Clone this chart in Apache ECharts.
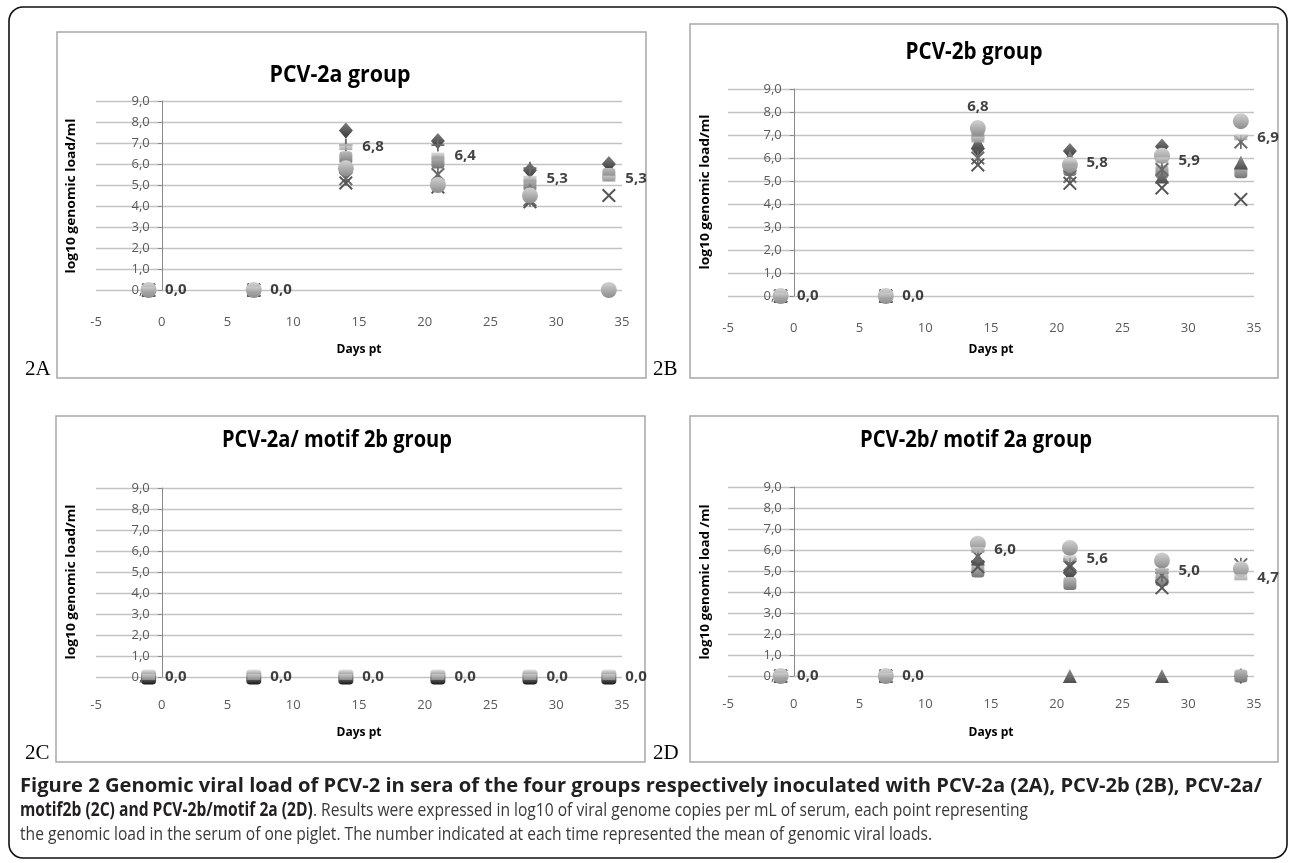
<!DOCTYPE html>
<html><head><meta charset="utf-8">
<script src="https://cdn.jsdelivr.net/npm/echarts@6/dist/echarts.min.js"></script>
<style>html,body{margin:0;padding:0;background:#fff}#c{width:1290px;height:863px}</style>
</head><body><div id="c"></div>
<script>
// ---------------- DATA ----------------
const days = [-1, 7, 14, 21, 28, 34];
const panelTitles = ['PCV-2a group', 'PCV-2b group', 'PCV-2a/ motif 2b group', 'PCV-2b/ motif 2a group'];
const panelTags = ['2A', '2B', '2C', '2D'];
const yTitles = ['log10 genomic load/ml', 'log10 genomic load/ml', 'log10 genomic load/ml', 'log10 genomic load /ml'];
const xTitle = 'Days pt';

// 2A  PCV-2a group
const a_diamond  = [0, 0, 7.6, 7.1, 5.7, 6.0];
const a_plus     = [0, 0, 6.9, 6.9, 5.8, null];
const a_square   = [0, 0, 6.3, 6.1, 5.0, 5.5];
const a_triangle = [0, 0, 5.9, 5.3, 4.8, null];
const a_star     = [0, 0, 5.3, 5.5, 4.3, null];
const a_x        = [0, 0, 5.1, 4.9, 4.2, 4.5];
const a_circle   = [0, 0, 5.8, 5.0, 4.5, 0];
const a_mean     = [0, 0, 6.8, 6.4, 5.3, 5.3];

// 2B  PCV-2b group
const b_diamond  = [0, 0, 6.4, 6.3, 6.5, null];
const b_square   = [0, 0, 7.0, 5.5, 5.4, 5.4];
const b_triangle = [0, 0, 6.7, 6.0, 5.2, 5.8];
const b_star     = [0, 0, 6.0, 5.2, 5.5, 6.7];
const b_x        = [0, 0, 5.7, 4.9, 4.7, 4.2];
const b_circle   = [0, 0, 7.3, 5.7, 6.1, 7.6];
const b_mean     = [0, 0, 6.8, 5.8, 5.9, 6.9];

// 2C  PCV-2a/ motif 2b group
const c_square   = [0, 0, 0, 0, 0, 0];
const c_mean     = [0, 0, 0, 0, 0, 0];

// 2D  PCV-2b/ motif 2a group
const d_diamond  = [0, 0, 5.4, 4.9, 4.9, 0];
const d_square   = [0, 0, 5.0, 4.4, 4.6, 0];
const d_triangle = [0, 0, 5.6, 0, 0, null];
const d_star     = [0, 0, 5.7, 5.3, 4.8, 5.3];
const d_x        = [0, 0, 5.2, 5.2, 4.2, null];
const d_circle   = [0, 0, 6.3, 6.1, 5.5, 5.1];
const d_mean     = [0, 0, 6.0, 5.6, 5.0, 4.7];

const captionBold1 = 'Figure 2 Genomic viral load of PCV-2 in sera of the four groups respectively inoculated with PCV-2a (2A), PCV-2b (2B), PCV-2a/';
const captionBold2 = 'motif2b (2C) and PCV-2b/motif 2a (2D)';
const captionText2 = '. Results were expressed in log10 of viral genome copies per mL of serum, each point representing';
const captionText3 = 'the genomic load in the serum of one piglet. The number indicated at each time represented the mean of genomic viral loads.';

const panelSeries = [
  [['diamond', a_diamond], ['plus', a_plus], ['square', a_square], ['triangle', a_triangle], ['star', a_star], ['x', a_x], ['circle', a_circle]],
  [['diamond', b_diamond], ['square', b_square], ['triangle', b_triangle], ['star', b_star], ['x', b_x], ['circle', b_circle]],
  [['dark', c_square]],
  [['diamond', d_diamond], ['square', d_square], ['triangle', d_triangle], ['star', d_star], ['x', d_x], ['circle', d_circle]]
];
const panelMeans = [a_mean, b_mean, c_mean, d_mean];

// ---------------- STYLE / LAYOUT ----------------
const layout = [
  {box: [57, 32, 589, 346], grid: {left: 96, top: 101, width: 526, height: 189}, title: [340, 75, 141], yt: [72, 196], xt: [359, 350], tag: [25, 380], xm: 26},
  {box: [690, 24, 588, 354], grid: {left: 728, top: 89, width: 526, height: 207}, title: [974, 52, 137], yt: [706, 192], xt: [991, 350], tag: [653, 380], xm: 26},
  {box: [56, 416, 589, 346], grid: {left: 96, top: 488, width: 526, height: 189}, title: [337, 440, 230], yt: [72, 582], xt: [359, 733], tag: [25, 764], xm: 22},
  {box: [690, 416, 588, 346], grid: {left: 728, top: 487, width: 526, height: 189}, title: [976, 440, 232], yt: [706, 582], xt: [991, 733], tag: [653, 764], xm: 22}
];
function grad(a, b) {
  return {type: 'linear', x: 0, y: 0, x2: 0, y2: 1, colorStops: [{offset: 0, color: a}, {offset: 1, color: b}]};
}
const shapes = {
  diamond:  {symbol: 'diamond', size: [14, 16], color: grad('#808080', '#353535')},
  square:   {symbol: 'roundRect', size: 13, color: grad('#bcbcbc', '#767676')},
  triangle: {symbol: 'triangle', size: 14, color: grad('#909090', '#4e4e4e')},
  star:     {symbol: 'path://M0,1 L1,0 L5,4 L9,0 L10,1 L6,5 L10,9 L9,10 L5,6 L1,10 L0,9 L4,5 Z M4.4,0 H5.6 V10 H4.4 Z', size: 14, color: '#6a6a6a'},
  x:        {symbol: 'path://M0,1 L1,0 L5,4 L9,0 L10,1 L6,5 L10,9 L9,10 L5,6 L1,10 L0,9 L4,5 Z', size: 14, color: '#555555'},
  plus:     {symbol: 'path://M4.3,0 H5.7 V4.3 H10 V5.7 H5.7 V10 H4.3 V5.7 H0 V4.3 H4.3 Z', size: 13, color: '#6a6a6a'},
  circle:   {symbol: 'circle', size: 16, color: grad('#d2d2d2', '#8c8c8c')},
  dark:     {symbol: 'roundRect', size: 15, color: grad('#e4e4e4', '#141414')},
  mean:     {symbol: 'rect', size: [13, 6], color: grad('#d0d0d0', '#9a9a9a')}
};

const canvas = document.createElement('canvas');
const ctx = canvas.getContext('2d');
function measure(text, font) { ctx.font = font; return ctx.measureText(text).width; }
const fmt = v => v.toFixed(1).replace('.', ',');

const grids = [], xAxes = [], yAxes = [], series = [], graphics = [];
const FONT = '"Open Sans", "Noto Sans", sans-serif';
const X_MIN = -5, X_MAX = 35;

// outer frame
graphics.push({type: 'rect', shape: {x: 9, y: 7, width: 1278, height: 851, r: 14}, style: {fill: 'none', stroke: '#111', lineWidth: 1.6}, z: 0});

layout.forEach((L, i) => {
  grids.push(Object.assign({containLabel: false, outerBoundsMode: 'none'}, L.grid));
  xAxes.push({
    type: 'value', gridIndex: i, min: X_MIN, max: X_MAX, interval: 5,
    axisLine: {show: false}, axisTick: {show: false}, splitLine: {show: false},
    axisLabel: {color: '#595959', fontSize: 13, fontFamily: FONT, margin: L.xm}
  });
  // vertical axis sits at x = 0: shift the whole axis (line + labels) right by the width of -5..0
  const zeroShift = L.grid.width * (0 - X_MIN) / (X_MAX - X_MIN);
  yAxes.push({
    type: 'value', gridIndex: i, min: 0, max: 9, interval: 1, offset: -zeroShift,
    axisLine: {show: true, onZero: false, lineStyle: {color: '#8a8a8a', width: 1}},
    axisTick: {show: true, length: 4, lineStyle: {color: '#8a8a8a'}},
    splitLine: {show: true, lineStyle: {color: '#c3c3c3', width: 1.3}},
    axisLabel: {color: '#595959', fontSize: 13, fontFamily: FONT, margin: 12, formatter: v => fmt(v)}
  });
  panelSeries[i].forEach(([shape, vals]) => {
    const s = shapes[shape];
    series.push({
      type: 'scatter', xAxisIndex: i, yAxisIndex: i, symbol: s.symbol, symbolSize: s.size,
      itemStyle: {color: s.color, opacity: 1}, silent: true,
      data: days.map((d, k) => vals[k] == null ? null : [d, vals[k]]).filter(p => p)
    });
  });
  const m = shapes.mean;
  series.push({
    type: 'scatter', xAxisIndex: i, yAxisIndex: i, symbol: m.symbol, symbolSize: m.size,
    itemStyle: {color: m.color}, z: 5,
    label: {show: true, position: 'right', distance: 10, color: '#111', fontWeight: 'bold', fontSize: 15, fontFamily: FONT,
            formatter: p => fmt(p.value[1])},
    data: days.map((d, k) => {
      const item = {value: [d, panelMeans[i][k]]};
      if (i === 1 && k === 2) item.label = {position: 'top', distance: 22};
      return item;
    })
  });

  // panel box
  const [bx, by, bw, bh] = L.box;
  graphics.push({type: 'rect', shape: {x: bx, y: by, width: bw, height: bh}, style: {fill: 'none', stroke: '#a8a8a8', lineWidth: 1.5}, z: 0});
  // tag
  graphics.push({type: 'text', x: L.tag[0], y: L.tag[1], style: {text: panelTags[i], font: '21px "Liberation Serif", "DejaVu Serif", serif', fill: '#000', textAlign: 'left', textVerticalAlign: 'bottom'}});
  // title
  const tf = 'bold 23px ' + FONT;
  graphics.push({type: 'text', x: L.title[0], y: L.title[1], scaleX: L.title[2] / measure(panelTitles[i], tf),
    style: {text: panelTitles[i], font: tf, fill: '#000', textAlign: 'center', textVerticalAlign: 'middle'}});
  // y title
  const yf = 'bold 12px ' + FONT;
  graphics.push({type: 'text', x: L.yt[0], y: L.yt[1], rotation: Math.PI / 2, scaleX: 155 / measure(yTitles[i], yf),
    style: {text: yTitles[i], font: yf, fill: '#000', textAlign: 'center', textVerticalAlign: 'middle'}});
  // x title
  const xf = 'bold 12px ' + FONT;
  graphics.push({type: 'text', x: L.xt[0], y: L.xt[1], scaleX: 45 / measure(xTitle, xf),
    style: {text: xTitle, font: xf, fill: '#000', textAlign: 'center', textVerticalAlign: 'middle'}});
});

// caption (condensed face approximated by horizontal scaling)
const cb = 'bold 19px ' + FONT, cn = '19px ' + FONT;
graphics.push({type: 'text', x: 20, y: 787, scaleX: 1242 / measure(captionBold1, cb),
  style: {text: captionBold1, font: cb, fill: '#231f20', textVerticalAlign: 'middle'}});
const w2 = measure(captionBold2, cb) + measure(captionText2, cn);
graphics.push({type: 'text', x: 20, y: 811, scaleX: 1008 / w2,
  style: {text: '{b|' + captionBold2 + '}{n|' + captionText2 + '}', textVerticalAlign: 'middle',
    rich: {b: {font: cb, fill: '#231f20'}, n: {font: cn, fill: '#3a3a3a'}}}});
graphics.push({type: 'text', x: 20, y: 835, scaleX: 912 / measure(captionText3, cn),
  style: {text: captionText3, font: cn, fill: '#3a3a3a', textVerticalAlign: 'middle'}});

const chart = echarts.init(document.getElementById('c'), null, {renderer: 'canvas'});
chart.setOption({
  backgroundColor: '#fff', animation: false,
  grid: grids, xAxis: xAxes, yAxis: yAxes, series: series, graphic: graphics
});
</script></body></html>
